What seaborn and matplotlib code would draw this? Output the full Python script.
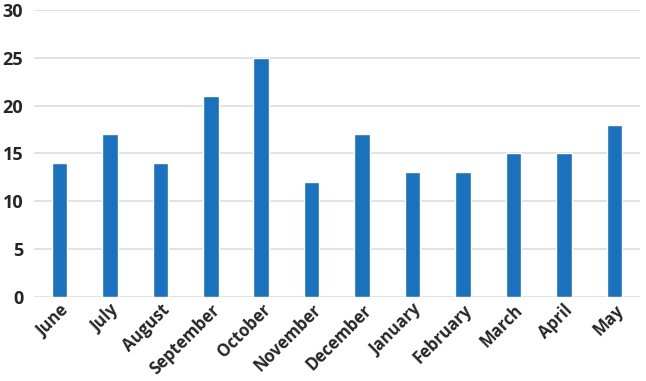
import seaborn as sns
import matplotlib.pyplot as plt
import pandas as pd

months = ["June", "July", "August", "September", "October", "November",
          "December", "January", "February", "March", "April", "May"]
counts = [14, 17, 14, 21, 25, 12, 17, 13, 13, 15, 15, 18]
yticks = [0, 5, 10, 15, 20, 25, 30]

sns.set_style("white")
plt.rcParams['font.family'] = ['Open Sans', 'DejaVu Sans']

df = pd.DataFrame({"month": months, "count": counts})

fig = plt.figure(figsize=(6.46, 3.81), dpi=100)
ax = fig.add_axes([0.053, 0.221, 0.937, 0.753])
sns.barplot(x="month", y="count", data=df, color="#1a71bd", saturation=1,
            width=0.31, ax=ax, zorder=3)

ax.set_ylim(0, 30)
ax.set_yticks(yticks)
ax.yaxis.grid(True, color="#dddddd", lw=1.2, zorder=0)
ax.set_axisbelow(True)
for s in ax.spines.values():
    s.set_visible(False)
ax.tick_params(axis='y', length=0, pad=8)
ax.tick_params(axis='x', length=0, pad=3)
ax.set_xlabel("")
ax.set_ylabel("")
plt.yticks(fontsize=13, fontweight="bold")
plt.xticks(fontsize=12, fontweight="bold", rotation=45, ha="right",
           rotation_mode="anchor")

plt.savefig("out.png", dpi=100)
